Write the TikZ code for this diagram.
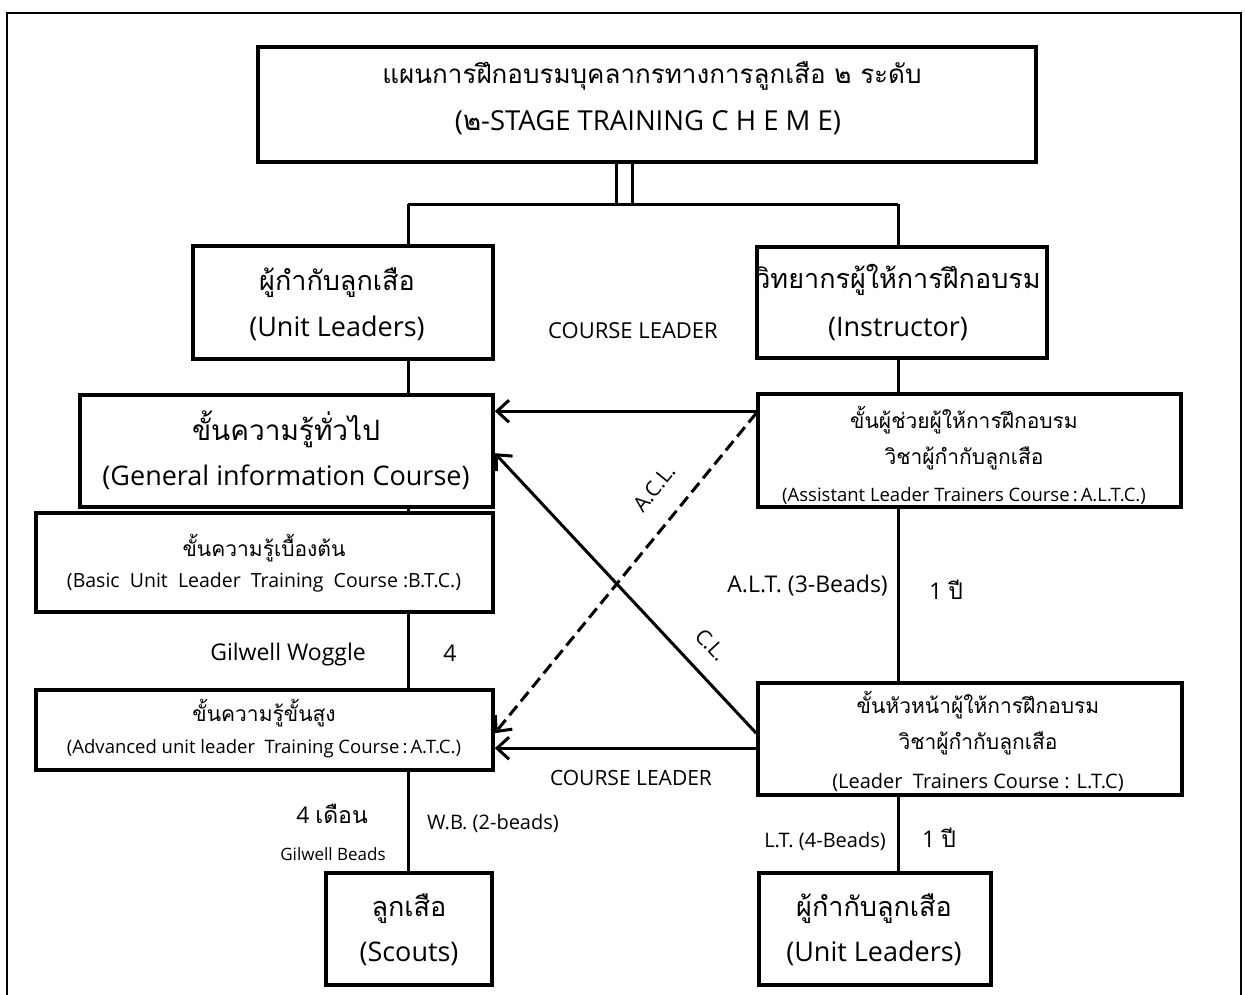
\documentclass[tikz,border=0pt]{standalone}
\usepackage{fontspec}
\setmainfont{Open Sans}
\newfontfamily\thai[Script=Thai]{Loma}
\usetikzlibrary{arrows.meta,calc}
\newcommand\fs[1]{\fontsize{#1}{#1}\selectfont}
\begin{document}
\begin{tikzpicture}[x=1pt,y=-1pt,
  box/.style={draw,line width=3.6pt,inner sep=0pt},
  conn/.style={line width=3pt},
  arr/.style={line width=3pt,-{Straight Barb[length=12pt,width=22pt]}},
  dsh/.style={arr,dash pattern=on 12pt off 6pt},
  frame/.style={line width=1.6pt},
  lbl/.style={inner sep=0pt,anchor=base}]
\useasboundingbox (0,0) rectangle (1246,994);
% outer frame
\draw[frame] (7,1010) -- (7,13) -- (1241,13) -- (1241,1010);
% boxes
\node[box,minimum width=778pt,minimum height=115pt] (title) at (647,104.5) {};
\node[box,minimum width=300pt,minimum height=113pt] (ul) at (343,302.5) {};
\node[box,minimum width=290pt,minimum height=111pt] (ins) at (902,302.5) {};
\node[box,minimum width=413pt,minimum height=112pt] (gic) at (286.5,451) {};
\node[box,minimum width=457pt,minimum height=99pt] (btc) at (264.5,562.5) {};
\node[box,minimum width=457pt,minimum height=80pt] (atc) at (264.5,730) {};
\node[box,minimum width=423pt,minimum height=113pt] (altc) at (969.5,450.5) {};
\node[box,minimum width=424pt,minimum height=112pt] (ltc) at (970,739) {};
\node[box,minimum width=166pt,minimum height=112pt] (sc) at (409,929) {};
\node[box,minimum width=232pt,minimum height=112pt] (ul2) at (875,929) {};
% texts
\node[lbl] (t1) at (652,83) {\thai\fs{26}แผนการฝึกอบรมบุคลากรทางการลูกเสือ ๒ ระดับ};
\node[lbl] (t2) at (648,130) {\fs{27.5}({\thai ๒}-STAGE TRAINING C H E M E)};
\node[lbl] (ul1) at (337,290) {\thai\fs{27}ผู้กำกับลูกเสือ};
\node[lbl] (ul2t) at (337,336) {\fs{27}(Unit Leaders)};
\node[lbl] (in1) at (898,288) {\thai\fs{27}วิทยากรผู้ให้การฝึกอบรม};
\node[lbl] (in2) at (898,336) {\fs{27}(Instructor)};
\node[lbl] (g1) at (286,440) {\thai\fs{28}ขั้นความรู้ทั่วไป};
\node[lbl] (g2) at (286,485) {\fs{27}(General information Course)};
\node[lbl] (b1) at (264,556) {\thai\fs{21}ขั้นความรู้เบื้องต้น};
\node[lbl] (b2) at (264,587) {\fs{19.5}(Basic~~Unit~~Leader~~Training~~Course :B.T.C.)};
\node[lbl] (a1) at (264,721) {\thai\fs{21}ขั้นความรู้ขั้นสูง};
\node[lbl] (a2) at (264,753) {\fs{18.5}(Advanced unit leader~~Training Course\,:\,A.T.C.)};
\node[lbl] (al1) at (964,428) {\thai\fs{21}ขั้นผู้ช่วยผู้ให้การฝึกอบรม};
\node[lbl] (al2) at (964,464) {\thai\fs{21}วิชาผู้กำกับลูกเสือ};
\node[lbl] (al3) at (964,501) {\fs{18.5}(Assistant Leader Trainers Course\,:\,A.L.T.C.)};
\node[lbl] (lt1) at (978,713) {\thai\fs{21}ขั้นหัวหน้าผู้ให้การฝึกอบรม};
\node[lbl] (lt2) at (978,749) {\thai\fs{21}วิชาผู้กำกับลูกเสือ};
\node[lbl] (lt3) at (978,788) {\fs{20}(Leader~~Trainers Course : L.T.C)};
\node[lbl] (s1) at (409,916) {\thai\fs{27}ลูกเสือ};
\node[lbl] (s2) at (409,961) {\fs{27}(Scouts)};
\node[lbl] (u1) at (874,916) {\thai\fs{27}ผู้กำกับลูกเสือ};
\node[lbl] (u2) at (874,961) {\fs{27}(Unit Leaders)};
% labels
\node[lbl] (cl1) at (633,338) {\fs{22}COURSE LEADER};
\node[lbl] (cl2) at (631,785) {\fs{21}COURSE LEADER};
\node[lbl] (gw) at (288,660) {\fs{23}Gilwell Woggle};
\node[lbl] (n4) at (450,661) {\fs{23}4};
\node[lbl,anchor=base east] (alt) at (888,592) {\fs{23}A.L.T. (3-Beads)};
\node[lbl,anchor=base west] (y1) at (929,599) {\fs{23}1 {\thai ปี}};
\node[lbl] (m4) at (332,823) {\fs{23}4 {\thai เดือน}};
\node[lbl] (gb) at (333,860) {\fs{17}Gilwell Beads};
\node[lbl,anchor=base west] (wb) at (427,829) {\fs{20}W.B. (2-beads)};
\node[lbl,anchor=base east] (lt) at (886,847) {\fs{20}L.T. (4-Beads)};
\node[lbl,anchor=base west] (y2) at (922,847) {\fs{23}1 {\thai ปี}};
\node[inner sep=0pt,rotate=51] (acl) at (654,488) {\fs{21}A.C.L.};
\node[inner sep=0pt,rotate=-47] (clb) at (711,645) {\fs{21}C.L.};
% helper coordinates
\coordinate (lx) at (408,0);
\coordinate (rx) at (898,0);
\coordinate (barL) at (408,204);
\coordinate (barR) at (898,204);
\coordinate (dA) at (616,204);
\coordinate (dB) at (632,204);
% tree connectors
\draw[conn] (title.south -| dA) -- (dA);
\draw[conn] (title.south -| dB) -- (dB);
\draw[conn] (barL) -- (barR);
\draw[conn] (barL) -- (ul.north -| barL);
\draw[conn] (barR) -- (ins.north -| barR);
\draw[conn] (ul.south -| lx) -- (gic.north -| lx);
\draw[conn] (gic.south -| lx) -- (btc.north -| lx);
\draw[conn] (btc.south -| lx) -- (atc.north -| lx);
\draw[conn] (atc.south -| lx) -- (sc.north -| lx);
\draw[conn] (ins.south -| rx) -- (altc.north -| rx);
\draw[conn] (altc.south -| rx) -- (ltc.north -| rx);
\draw[conn] (ltc.south -| rx) -- (ul2.north -| rx);
% arrows
\draw[arr] ($(altc.north west)+(0,19)$) -- ($(gic.north east)+(0,18)$);
\draw[arr] ($(ltc.north west)+(0,52)$) -- ($(gic.north east)+(0,60)$);
\draw[dsh] ($(altc.north west)+(0,21)$) -- ($(atc.north east)+(0,45)$);
\draw[arr] ($(ltc.north west)+(0,67)$) -- ($(atc.north east)+(0,60)$);
\end{tikzpicture}
\end{document}
